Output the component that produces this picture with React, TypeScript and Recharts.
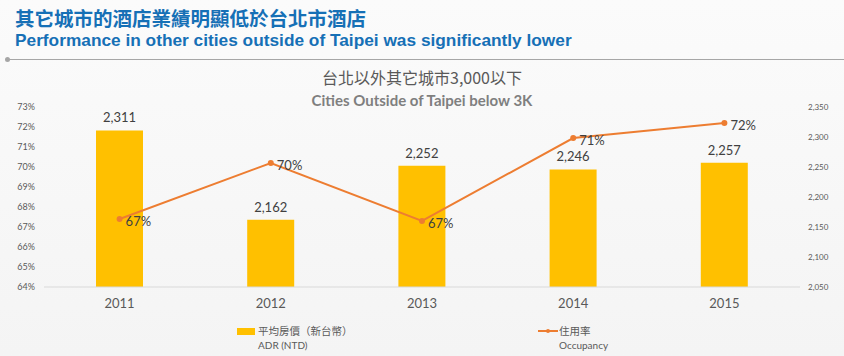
import React from "react";
import { ComposedChart, Bar, Line, XAxis, YAxis, LabelList } from "recharts";

const years = ["2011", "2012", "2013", "2014", "2015"];
const adr = [2311, 2162, 2252, 2246, 2257];
const occupancy = [67.4, 70.2, 67.3, 71.45, 72.2];
const occTicks = [64, 65, 66, 67, 68, 69, 70, 71, 72, 73];
const adrTicks = [2050, 2100, 2150, 2200, 2250, 2300, 2350];

const data = years.map((year, i) => ({ year, adr: adr[i], occ: occupancy[i] }));

const chartFont = "Lato, 'Noto Sans CJK TC', sans-serif";

export const App: React.FC = () => {
  return <div style={{
    position: "absolute",
    top: 0,
    left: 0,
    width: 844,
    height: 356,
    background: "linear-gradient(180deg, #fbfbfb 0%, #f4f4f4 100%)",
    overflow: "hidden",
    fontFamily: chartFont
  }}>
      <div style={{ position: "absolute", left: 15, top: 3, fontSize: 19.5, fontWeight: 700, color: "#1670b6", fontFamily: "'Noto Sans CJK TC', sans-serif" }}>
        其它城市的酒店業績明顯低於台北市酒店
      </div>
      <div style={{ position: "absolute", left: 15, top: 30, fontSize: 17.3, fontWeight: 700, color: "#1670b6", fontFamily: "'Liberation Sans', Arial, sans-serif" }}>
        Performance in other cities outside of Taipei was significantly lower
      </div>
      <div style={{ position: "absolute", left: 8, top: 59, width: 836, height: 1, background: "#a6a6a6" }} />
      <div style={{ position: "absolute", left: 5, top: 57, width: 5, height: 5, borderRadius: 3, background: "#a6a6a6" }} />

      <div style={{ position: "absolute", left: 0, width: 844, top: 65, textAlign: "center", fontSize: 16, color: "#595959", fontFamily: "'Noto Sans CJK TC', sans-serif" }}>
        台北以外其它城市3,000以下
      </div>
      <div style={{ position: "absolute", left: 0, width: 844, top: 91, textAlign: "center", fontSize: 15, fontWeight: 700, color: "#7f7f7f" }}>
        Cities Outside of Taipei below 3K
      </div>

      <div style={{ position: "absolute", top: 0, left: 0 }}>
        <ComposedChart width={844} height={356} data={data} margin={{ top: 107, right: 0, bottom: 39, left: 0 }} style={{ fontFamily: chartFont }}>
          <XAxis dataKey="year" axisLine={{ stroke: "#d9d9d9" }} tickLine={false} tickSize={0} tickMargin={12} height={30} tick={{ fill: "#595959", fontSize: 13 }} />
          <YAxis yAxisId="occ" orientation="left" width={44} domain={[64, 73]} ticks={occTicks} interval={0} axisLine={false} tickLine={false} tickSize={0} tickMargin={9} tick={{ fill: "#595959", fontSize: 9 }} tickFormatter={(v: number) => `${v}%`} />
          <YAxis yAxisId="adr" orientation="right" width={44} domain={[2050, 2350]} ticks={adrTicks} interval={0} axisLine={false} tickLine={false} tickSize={0} tickMargin={8} tick={{ fill: "#595959", fontSize: 8, textAnchor: "start" }} tickFormatter={(v: number) => v.toLocaleString("en-US")} />
          <Bar yAxisId="adr" dataKey="adr" fill="#ffc000" barSize={47} isAnimationActive={false}>
            <LabelList dataKey="adr" position="top" offset={8} fill="#404040" fontSize={13} formatter={(v: number) => v.toLocaleString("en-US")} />
          </Bar>
          <Line yAxisId="occ" dataKey="occ" stroke="#ed7d31" strokeWidth={2} dot={{ r: 2, fill: "#ed7d31", stroke: "#ed7d31" }} isAnimationActive={false}>
            <LabelList dataKey="occ" position="right" offset={6} dy={2} fill="#404040" fontSize={13} formatter={(v: number) => `${Math.round(v)}%`} />
          </Line>
        </ComposedChart>
      </div>

      <div style={{ position: "absolute", left: 237, top: 324, display: "flex", alignItems: "flex-start" }}>
        <div style={{ width: 18, height: 7, background: "#ffc000", marginTop: 4, marginRight: 3 }} />
        <div style={{ color: "#595959" }}>
          <div style={{ fontSize: 10.5, lineHeight: "14px", fontFamily: "'Noto Sans CJK TC', sans-serif" }}>平均房價（新台幣）</div>
          <div style={{ fontSize: 10, lineHeight: "14px" }}>ADR (NTD)</div>
        </div>
      </div>
      <div style={{ position: "absolute", left: 538, top: 324, display: "flex", alignItems: "flex-start" }}>
        <svg width={20} height={14} style={{ marginRight: 1 }}>
          <line x1={0} y1={7} x2={20} y2={7} stroke="#ed7d31" strokeWidth={2} />
          <circle cx={10} cy={7} r={2} fill="#ed7d31" />
        </svg>
        <div style={{ color: "#595959" }}>
          <div style={{ fontSize: 10.5, lineHeight: "14px", fontFamily: "'Noto Sans CJK TC', sans-serif" }}>住用率</div>
          <div style={{ fontSize: 10, lineHeight: "14px" }}>Occupancy</div>
        </div>
      </div>
    </div>;
};

export default App;
